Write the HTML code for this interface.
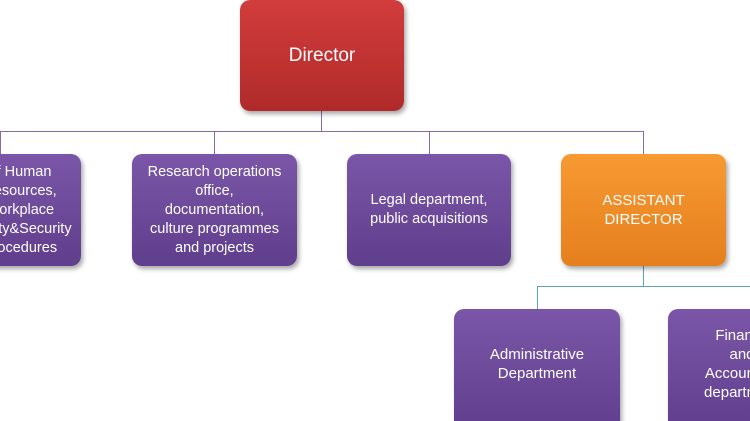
<!DOCTYPE html>
<html><head><style>
html,body{margin:0;padding:0;background:#fff}
#w{width:750px;height:421px;overflow:hidden;position:relative;font-family:"Liberation Sans",Arial,sans-serif}
.b{position:absolute;border-radius:10px;color:#fff;display:flex;align-items:center;justify-content:center;text-align:center;box-shadow:2px 3px 5px rgba(0,0,0,.35)}
.p{background:linear-gradient(#7b56a8,#5f3e8c);font-size:14.5px;line-height:19px}
.l{position:absolute;background:#8a6aa8}
.t{position:absolute;background:#5aa3b0}
</style></head><body><div id="w">
<div class="l" style="left:321px;top:111px;width:1px;height:21px"></div>
<div class="l" style="left:0;top:131px;width:644px;height:1px"></div>
<div class="l" style="left:0;top:131px;width:1px;height:23px"></div>
<div class="l" style="left:214px;top:131px;width:1px;height:23px"></div>
<div class="l" style="left:429px;top:131px;width:1px;height:23px"></div>
<div class="l" style="left:643px;top:131px;width:1px;height:23px"></div>
<div class="t" style="left:643px;top:266px;width:1px;height:21px"></div>
<div class="t" style="left:537px;top:286px;width:213px;height:1px"></div>
<div class="t" style="left:537px;top:286px;width:1px;height:23px"></div>
<div class="b" style="left:240px;top:0;width:164px;height:111px;background:linear-gradient(#d23c3c,#b02a2a);font-size:19px">Director</div>
<div class="b p" style="left:-50px;top:154px;width:131px;height:112px;justify-content:flex-start;text-align:center"><div style="width:160px;margin-left:-10px;flex-shrink:0">of Human<br>Resources,<br>Workplace<br>Safety&amp;Security<br>Procedures</div></div>
<div class="b p" style="left:132px;top:154px;width:165px;height:112px">Research operations<br>office,<br>documentation,<br>culture programmes<br>and projects</div>
<div class="b p" style="left:347px;top:154px;width:164px;height:112px">Legal department,<br>public acquisitions</div>
<div class="b" style="left:561px;top:154px;width:165px;height:112px;background:linear-gradient(#f79a32,#e57f1e);font-size:15px;line-height:19px">ASSISTANT<br>DIRECTOR</div>
<div class="b p" style="left:454px;top:309px;width:166px;height:125px;font-size:15px;align-items:flex-start"><div style="margin-top:36px">Administrative<br>Department</div></div>
<div class="b p" style="left:668px;top:309px;width:82px;height:125px;font-size:15px;align-items:flex-start;justify-content:flex-start;border-radius:10px 0 0 10px"><div style="margin-top:17px;width:130px;margin-left:9px;flex-shrink:0;text-align:center">Finance<br>and<br>Accounting<br>department</div></div>
</div></body></html>
